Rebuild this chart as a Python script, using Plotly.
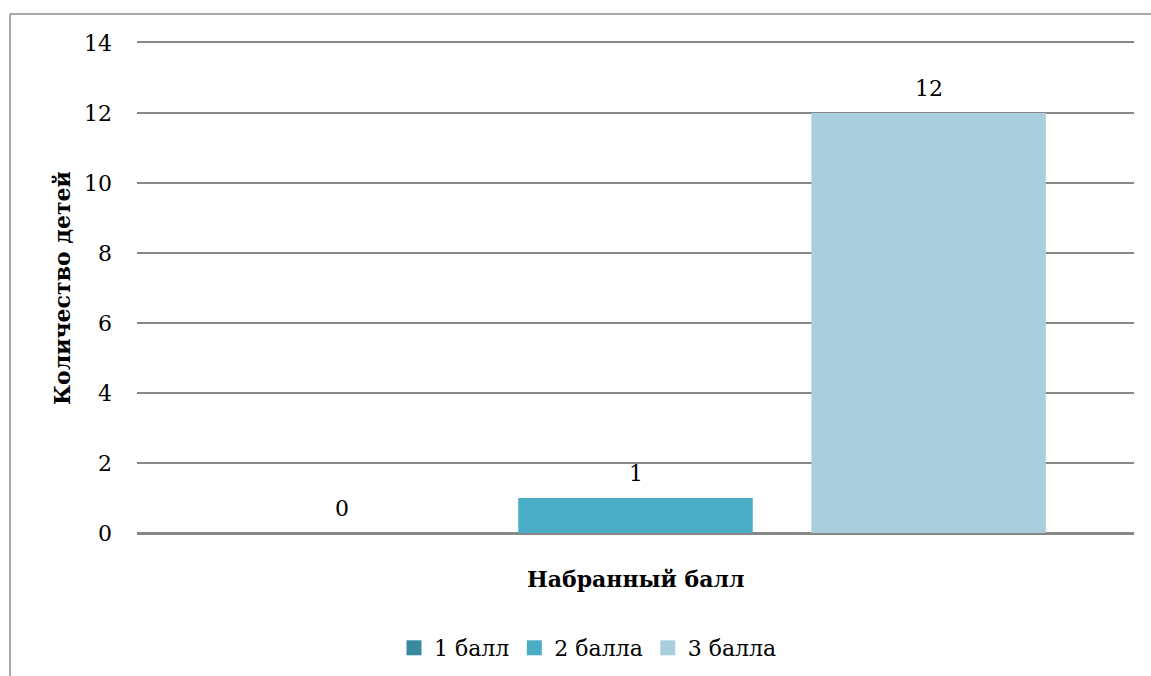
import plotly.graph_objects as go

category = ["Набранный балл"]
series_names = ["1 балл", "2 балла", "3 балла"]
series_values = [0, 1, 12]
series_colors = ["#3A8A9F", "#4BACC6", "#A9CEDC"]
y_ticks = [0, 2, 4, 6, 8, 10, 12, 14]

FONT = "DejaVu Serif"
FS = 22
BARGAP = 0.118
GROUPGAP = 0.2

fig = go.Figure()
for name, val, col in zip(series_names, series_values, series_colors):
    fig.add_trace(go.Bar(
        x=[0], y=[val], name=name, marker=dict(color=col, line=dict(width=0)),
        showlegend=False,
    ))
# legend entries with square markers
for name, col in zip(series_names, series_colors):
    fig.add_trace(go.Scatter(
        x=[None], y=[None], mode="markers", name=name,
        marker=dict(symbol="square", size=15, color=col),
    ))

# value labels placed above each bar of the group
n = len(series_values)
slot = (1 - BARGAP) / n
annotations = []
for i, val in enumerate(series_values):
    annotations.append(dict(
        text=str(val), x=(i - (n - 1) / 2) * slot, y=val, xref="x", yref="y",
        xanchor="center", yanchor="middle", yshift=25, showarrow=False,
        font=dict(family=FONT, size=FS, color="#000000"),
    ))

W, H = 1151, 676
L, R, T, B = 137, 17, 43, 143
pw, ph = W - L - R, H - T - B

def px_x(x):
    return (x - L) / pw

def px_y(y):
    return (H - B - y) / ph

annotations += [
    dict(text="<b>Набранный балл</b>", x=0.5, y=px_y(579), xref="paper", yref="paper",
         xanchor="center", yanchor="middle", showarrow=False,
         font=dict(family=FONT, size=FS)),
    dict(text="<b>Количество детей</b>", x=px_x(62), y=px_y(288), xref="paper", yref="paper",
         xanchor="center", yanchor="middle", showarrow=False, textangle=-90,
         font=dict(family=FONT, size=FS)),
]

fig.update_layout(
    width=W, height=H,
    margin=dict(l=L, r=R, t=T, b=B, autoexpand=False),
    paper_bgcolor="white", plot_bgcolor="white",
    barmode="group", bargap=BARGAP, bargroupgap=GROUPGAP,
    font=dict(family=FONT, size=FS, color="#000000"),
    showlegend=True,
    legend=dict(orientation="h", x=px_x(588), xanchor="center", y=px_y(648), yanchor="middle",
                font=dict(family=FONT, size=FS), itemwidth=30,
                tracegroupgap=0),
    xaxis=dict(range=[-0.5, 0.5], showticklabels=False, showgrid=False, zeroline=False,
               showline=True, mirror=True, linecolor="#878787", linewidth=1.5, ticks=""),
    yaxis=dict(range=[0, 14], tickvals=y_ticks, showgrid=True, gridcolor="#878787",
               gridwidth=1.5, zeroline=True, zerolinecolor="#878787", zerolinewidth=1.5,
               showline=False, ticks="", ticklabelstandoff=24,
               tickfont=dict(family=FONT, size=FS)),
    annotations=annotations,
    shapes=[
        dict(type="line", xref="paper", yref="paper", x0=px_x(10), x1=px_x(10),
             y0=px_y(H + 5), y1=px_y(14), line=dict(color="#8C8C8C", width=1.5)),
        dict(type="line", xref="paper", yref="paper", x0=px_x(10), x1=px_x(W + 5),
             y0=px_y(14), y1=px_y(14), line=dict(color="#8C8C8C", width=1.5)),
    ],
)

fig.write_html("out.html", config={"displayModeBar": False},
               post_script="document.body.style.margin='0';document.body.style.overflow='hidden';")
